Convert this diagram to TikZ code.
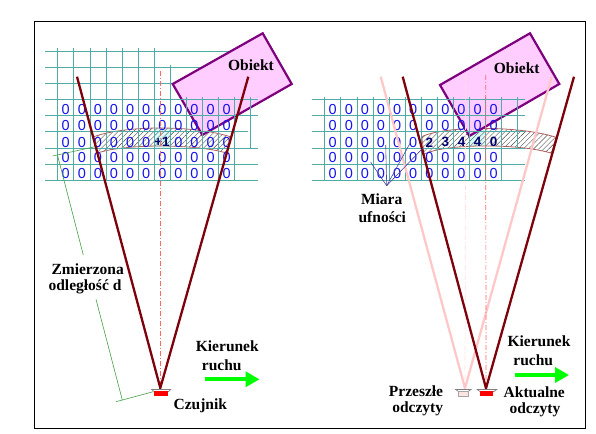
\documentclass[tikz,border=0pt]{standalone}
\usepackage{fontspec}
\setmainfont{Liberation Serif}
\newfontfamily\zerofont{Liberation Sans}
\usetikzlibrary{arrows.meta,patterns.meta}
\definecolor{gridteal}{RGB}{80,170,165}
\definecolor{beamred}{RGB}{125,0,10}
\definecolor{beampale}{RGB}{255,200,200}
\definecolor{objfill}{RGB}{255,205,255}
\definecolor{objedge}{RGB}{125,0,125}
\definecolor{zeroblue}{RGB}{20,20,235}
\definecolor{scorenavy}{RGB}{0,0,110}
\definecolor{dimgreen}{RGB}{70,160,70}
\definecolor{bandedge}{RGB}{175,95,95}
\definecolor{cellcyan}{RGB}{215,250,250}
\definecolor{miarablue}{RGB}{70,70,160}
\tikzset{
    gridline/.style={gridteal, line width=1pt},
    obiekt/.style={draw=objedge, fill=objfill, line width=2.2pt, line join=miter},
    beam/.style={beamred, line width=2.3pt},
    beamold/.style={beampale, line width=2.3pt},
    axis/.style={red!60, line width=0.7pt, dash pattern=on 5pt off 2pt on 1pt off 2pt},
    axisold/.style={beampale!60, line width=0.7pt, dash pattern=on 5pt off 2pt on 1pt off 2pt},
    band/.style={draw=bandedge, line width=0.8pt, pattern={Lines[angle=45,distance=3.6pt,line width=0.4pt]}, pattern color=black!70},
    dimline/.style={dimgreen, line width=0.6pt},
    moveto/.style={-{Triangle[length=14pt,width=15pt]}, green, line width=4pt},
    zero/.style={text=zeroblue, font=\zerofont\fontsize{14.5}{14.5}\selectfont, inner sep=0pt},
    score/.style={text=scorenavy, font=\zerofont\bfseries\fontsize{13.5}{14}\selectfont, inner sep=0pt},
    label/.style={font=\bfseries\fontsize{15.5}{17}\selectfont, inner sep=0pt, align=center},
    sensortop/.style={draw=black!50, fill=white, line width=0.7pt},
}
\begin{document}
\begin{tikzpicture}[x=1pt, y=-1pt]
    \useasboundingbox (0,0) rectangle (596,433);
    \draw[line width=1pt] (34.5,22) rectangle (585,428);

    % Left: upper grid behind the object
    \foreach \y in {51.5,67.5,83.5} \draw[gridline] (45,\y) -- (232,\y);
    \foreach \x in {57.5,73.5,90.5,106.5,122.5,138.5,154.5} \draw[gridline] (\x,48) -- (\x,99.5);
    \draw[gridline] (170.5,65) -- (170.5,99.5);

    % Left: band
    \fill[cellcyan] (155,128) rectangle (171,148);
    \draw[band] (93,137) .. controls (125,125) and (195,125) .. (231,137)
        -- (226.5,153) .. controls (195,143.7) and (125,143.7) .. (97.5,153) -- cycle;

    % Left: object
    \draw[obiekt] (172.7,84) -- (262.7,33.3) -- (291.7,84) -- (202.3,135) -- cycle;
    \node[label] (obiektL) at (251,65) {Obiekt};

    % Left: lower grid
    \foreach \y/\e in {99.5/257.7,115.5/257.7,131.5/248,148.5/257.7,164.5/257.7,180.5/257.7}
        \draw[gridline] (45,\y) -- (\e,\y);
    \foreach \x in {57.5,73.5,90.5,106.5,122.5,138.5,154.5,170.5,186.5,202.5,218.5,234.5}
        \draw[gridline] (\x,97) -- (\x,180.5);
    \draw[gridline] (250.5,97) -- (250.5,148.5);

    % Left: cell values
    \foreach \r/\y in {1/110,2/126,4/158,5/174}
        \foreach \c in {0,...,10}
            \node[zero] (zl\r\c) at (65.7+16.1*\c,\y) {0};
    \foreach \c in {0,1,2,3,4,5,7,8,9,10}
        \node[zero] (zl3\c) at (65.7+16.1*\c,142.3) {0};
    \node[score] (plusone) at (162,142) {+1};

    % Left: sensor beam
    \coordinate (apexL) at (160.3,388);
    \coordinate (beamLa) at (77,76.7);
    \coordinate (beamLb) at (248.3,76.7);
    \coordinate (axisL) at (160.3,71);
    \draw[axis] (axisL) -- (apexL);
    \draw[beam] (beamLa) -- (apexL) -- (beamLb);
    \draw[sensortop] (151.7,389.5) -- (170.7,389.5) -- (168.5,391.5) -- (154,391.5) -- cycle;
    \fill[red] (154,391) rectangle (168,396);

    % Left: measured distance
    \coordinate (dimA) at (52.7,156);
    \coordinate (dimB) at (95,146.7);
    \coordinate (dimC) at (57.7,156);
    \coordinate (dimD) at (83.3,255);
    \coordinate (dimE) at (96,299.3);
    \coordinate (dimF) at (122.3,400);
    \coordinate (dimG) at (116,401.7);
    \coordinate (dimH) at (153.3,391.7);
    \draw[dimline] (dimA) -- (dimB);
    \draw[dimline] (dimC) -- (dimD);
    \draw[dimline] (dimE) -- (dimF);
    \draw[dimline] (dimG) -- (dimH);

    % Left: labels
    \node[label] (zmierzona) at (87.7,268.7) {Zmierzona};
    \node[label] (odleglosc) at (85,286.7) {odległość d};
    \node[label] (kierunekL) at (227.3,346.7) {Kierunek};
    \node[label] (ruchuL) at (221.7,365) {ruchu};
    \node[label] (czujnik) at (200.3,406) {Czujnik};
    \coordinate (moveLa) at (205,379.3);
    \coordinate (moveLb) at (259.5,379.3);
    \draw[moveto] (moveLa) -- (moveLb);

    % Right: band
    \fill[cellcyan] (470,128) rectangle (485.5,146);
    \draw[band] (421.7,136.7) .. controls (445,125.5) and (520,125.5) .. (556,137.3)
        -- (551.7,153.3) .. controls (520,143.3) and (445,143.3) .. (424,154.3) -- cycle;

    % Right: object
    \draw[obiekt] (440,85) -- (530,33.3) -- (559.3,84) -- (469.3,136) -- cycle;
    \node[label] (obiektR) at (516.7,68.3) {Obiekt};

    % Right: grid
    \foreach \y in {99.5,115.5,131.5,148.5,164.5,180.5} \draw[gridline] (312.3,\y) -- (525,\y);
    \foreach \x in {324.5,340.5,357.5,373.5,389.5,405.5,421.5,437.5,453.5,469.5,485.5,501.5}
        \draw[gridline] (\x,97) -- (\x,180.5);
    \draw[gridline] (517.5,97) -- (517.5,148.5);

    % Right: cell values
    \foreach \r/\y in {1/109.5,2/125.5,4/158,5/174}
        \foreach \c in {0,...,10}
            \node[zero] (zr\r\c) at (332.7+16.1*\c,\y) {0};
    \foreach \c in {0,...,5}
        \node[zero] (zr3\c) at (332.7+16.1*\c,142.3) {0};
    \foreach \c/\v in {6/2,7/3,8/4,9/4,10/0}
        \node[score] (sr\c) at (332.7+16.1*\c,142.3) {\v};

    % Right: past and present beams
    \coordinate (apexOld) at (465,388.3);
    \coordinate (oldA) at (380.7,76.7);
    \coordinate (oldB) at (551.7,76.7);
    \coordinate (axisOld) at (465.7,75);
    \coordinate (apexR) at (486,388.3);
    \coordinate (beamRa) at (402.7,76.7);
    \coordinate (beamRb) at (574,76.7);
    \coordinate (axisR) at (485.7,75);
    \draw[axisold] (axisOld) -- (apexOld);
    \draw[beamold] (oldA) -- (apexOld) -- (oldB);
    \draw[axis] (axisR) -- (apexR);
    \draw[beam] (beamRa) -- (apexR) -- (beamRb);
    \draw[sensortop] (455.7,389.5) -- (471,389.5) -- (468,391.5) -- (458.5,391.5) -- cycle;
    \draw[draw=black!35, fill=beampale!50, line width=0.5pt] (458.5,391.5) rectangle (468,396);
    \draw[sensortop] (477.3,389.5) -- (496.7,389.5) -- (494,391.5) -- (480,391.5) -- cycle;
    \fill[red] (480,391) rectangle (493.3,396);

    % Right: confidence pointers
    \coordinate (miaraTip) at (386.7,185.7);
    \coordinate (miaraA) at (370.7,162.3);
    \coordinate (miaraB) at (385.7,145);
    \coordinate (miaraC) at (410,143.3);
    \coordinate (miaraD) at (422.7,148.3);
    \foreach \m in {miaraA,miaraB,miaraC,miaraD}
        \draw[miarablue, line width=0.6pt] (miaraTip) -- (\m);

    % Right: labels
    \node[label] (miara) at (381.7,199) {Miara};
    \node[label] (ufnosci) at (382.3,216.7) {ufności};
    \node[label] (kierunekR) at (539,341.7) {Kierunek};
    \node[label] (ruchuR) at (533.3,360.7) {ruchu};
    \node[label] (przeszle) at (416,390.7) {Przeszłe};
    \node[label] (odczytyA) at (417.7,409) {odczyty};
    \node[label] (aktualne) at (534.3,392.3) {Aktualne};
    \node[label] (odczytyB) at (535,410) {odczyty};
    \coordinate (moveRa) at (515,375);
    \coordinate (moveRb) at (569,375);
    \draw[moveto] (moveRa) -- (moveRb);
\end{tikzpicture}
\end{document}
